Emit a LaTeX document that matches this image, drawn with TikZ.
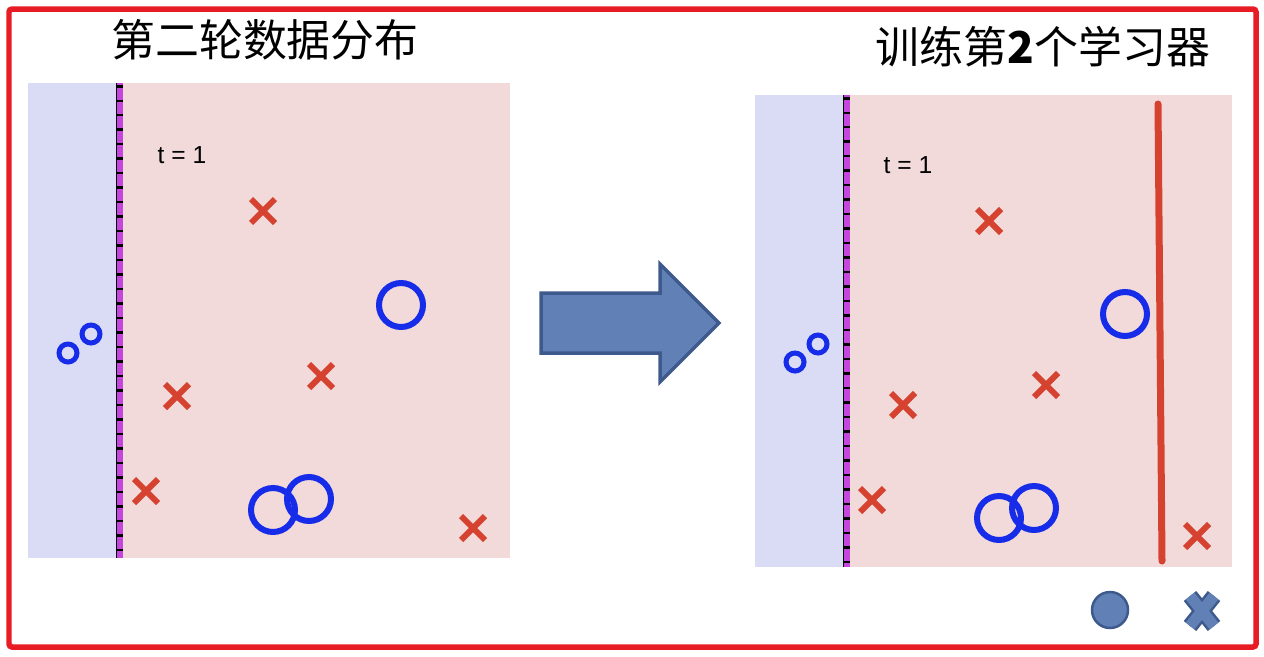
\documentclass[tikz,border=0pt]{standalone}
\usepackage{fontspec}
\setmainfont{Liberation Sans}
\newfontfamily\cjk{Noto Sans CJK SC}
\usetikzlibrary{shapes.misc}

\definecolor{frameRed}{RGB}{232,28,36}
\definecolor{bgBlue}{RGB}{218,220,246}
\definecolor{bgPink}{RGB}{242,218,219}
\definecolor{markRed}{RGB}{214,66,48}
\definecolor{ringBlue}{RGB}{22,44,232}
\definecolor{boundPurple}{RGB}{196,70,220}
\definecolor{arrowBlue}{RGB}{96,128,182}
\definecolor{arrowEdge}{RGB}{62,90,140}

\tikzset{
  xmark/.style={draw=markRed,cross out,line width=0.12cm,minimum size=0.36cm,inner sep=0pt},
  bigring/.style={draw=ringBlue,circle,line width=0.12cm,minimum size=0.88cm,inner sep=0pt},
  smallring/.style={draw=ringBlue,circle,line width=0.1cm,minimum size=0.36cm,inner sep=0pt},
  title/.style={font=\cjk\fontsize{25}{30}\selectfont},
  tlabel/.style={font=\fontsize{14}{16}\selectfont}
}

\begin{document}
\begin{tikzpicture}[x=0.02cm,y=-0.02cm]
        \useasboundingbox (0,0) rectangle (1264,656);
        % outer frame
        \draw[frameRed,line width=0.11cm,rounded corners=0.06cm] (9,9) rectangle (1256,647);

        % left panel
        \fill[bgBlue] (28,83) rectangle (118,558);
        \fill[bgPink] (118,83) rectangle (510,558);
        \draw[boundPurple,line width=0.13cm] (119.5,83) -- (119.5,558);
        \draw[black,line width=0.13cm,dash pattern=on 0.05cm off 0.24cm] (119.5,85) -- (119.5,558);
        \draw[black,line width=0.02cm] (116.5,83) -- (116.5,558);
        \node[title] (lefttitle) at (265,40) {第二轮数据分布};
        \node[tlabel] (lt) at (182,155) {t = 1};
        \foreach \x/\y [count=\i] in {263/211,177/396,321/376,146/491,473/528} {
                \node[xmark] (lx\i) at (\x,\y) {};
            }
        \foreach \x/\y [count=\i] in {401/305,273/510,309/499} {
                \node[bigring] (lo\i) at (\x,\y) {};
            }
        \node[smallring] (ls1) at (68,353) {};
        \node[smallring] (ls2) at (91,334) {};

        % arrow between panels
        \draw[arrowEdge,fill=arrowBlue,line width=0.07cm,line join=miter]
                (541,293) -- (660,293) -- (660,264) -- (719,323) -- (660,382) -- (660,353) -- (541,353) -- cycle;

        % right panel
        \fill[bgBlue] (755,95) rectangle (845,567);
        \fill[bgPink] (845,95) rectangle (1232,567);
        \draw[boundPurple,line width=0.13cm] (846.5,95) -- (846.5,567);
        \draw[black,line width=0.13cm,dash pattern=on 0.05cm off 0.24cm] (846.5,97) -- (846.5,567);
        \draw[black,line width=0.02cm] (843.5,95) -- (843.5,567);
        \node[title] (righttitle) at (1043,47) {训练第\textbf{2}个学习器};
        \node[tlabel] (rt) at (908,165) {t = 1};
        \foreach \x/\y [count=\i] in {989/221,903/405,1046/385,872/500,1197/536} {
                \node[xmark] (rx\i) at (\x,\y) {};
            }
        \foreach \x/\y [count=\i] in {1125/314,999/518,1034/508} {
                \node[bigring] (ro\i) at (\x,\y) {};
            }
        \node[smallring] (rs1) at (795,362) {};
        \node[smallring] (rs2) at (818,344) {};
        \coordinate (cutTop) at (1158,104);
        \coordinate (cutBot) at (1162,561);
        \draw[markRed,line width=0.14cm,line cap=round] (cutTop) -- (cutBot);

        % legend
        \node[circle,draw=arrowEdge,fill=arrowBlue,line width=0.05cm,minimum size=0.72cm,inner sep=0pt] (legO) at (1110,610) {};
        \draw[arrowEdge,line width=0.32cm] (1190,596) -- (1214,626) (1214,596) -- (1190,626);
        \draw[arrowBlue,line width=0.22cm] (1190,596) -- (1214,626) (1214,596) -- (1190,626);
        \node[inner sep=0pt,minimum size=0.8cm] (legX) at (1202,611) {};
    \end{tikzpicture}
\end{document}
